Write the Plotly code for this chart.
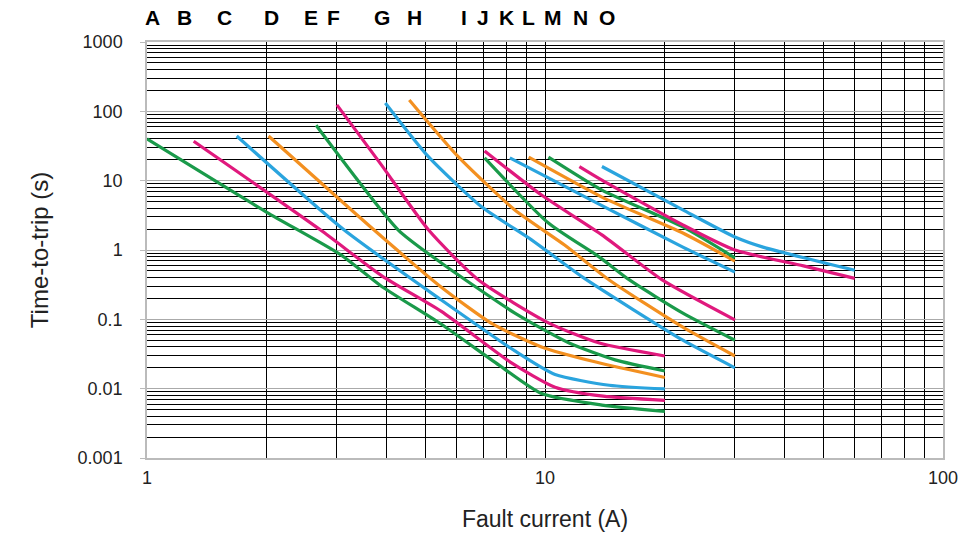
import numpy as np
import plotly.graph_objects as go

# Curve data: fault current (A) vs time-to-trip (s)
curve_names = list("ABCDEFGHIJKLMNO")
curve_colors = ["#1A9A4A", "#E0197D", "#2AA4DE", "#F39020"] * 4

A_x = [1.0, 2.0, 3.07, 3.88, 5.49, 7.65, 9.8, 13.9, 20]
A_y = [40, 3.5, 0.85, 0.30, 0.085, 0.022, 0.0085, 0.0058, 0.0047]
B_x = [1.31, 2.73, 3.9, 5.49, 8.2, 10.6, 14, 20]
B_y = [37, 1.94, 0.42, 0.13, 0.024, 0.0105, 0.0078, 0.0068]
C_x = [1.68, 3.13, 5.49, 8.4, 10.6, 14.5, 20]
C_y = [44, 1.94, 0.19, 0.035, 0.016, 0.0112, 0.0099]
D_x = [2.02, 3.72, 5.49, 7.4, 9.8, 13.5, 20]
D_y = [44, 1.94, 0.29, 0.085, 0.040, 0.024, 0.0145]
E_x = [2.66, 4.28, 5.49, 8.4, 11.5, 15.0, 20]
E_y = [63, 1.94, 0.65, 0.123, 0.0455, 0.026, 0.018]
F_x = [3.0, 3.88, 5.1, 6.81, 10.2, 13.7, 20]
F_y = [124, 16.9, 1.94, 0.37, 0.089, 0.0455, 0.0296]
G_x = [3.97, 5.1, 6.93, 9.27, 12.4, 22.2, 30]
G_y = [132, 22, 4.2, 1.39, 0.41, 0.05, 0.02]
H_x = [4.56, 6.06, 8.4, 11.2, 14.5, 22.2, 30]
H_y = [146, 22, 3.78, 1.18, 0.37, 0.077, 0.0296]
I_x = [7.05, 10.2, 13.7, 16.3, 22.2, 30]
I_y = [21.3, 2.45, 0.79, 0.37, 0.123, 0.05]
J_x = [7.05, 9.8, 13.9, 19.7, 30]
J_y = [26.8, 6.2, 1.65, 0.37, 0.098]
K_x = [8.16, 13.9, 22.2, 30]
K_y = [21.3, 4.37, 1.1, 0.48]
L_x = [9.1, 13.9, 22.2, 30]
L_y = [21.8, 5.8, 1.76, 0.69]
M_x = [10.2, 13.9, 22.2, 30]
M_y = [21.8, 7.3, 2.15, 0.77]
N_x = [12.2, 13.9, 22.2, 30, 44.6, 60]
N_y = [16, 10.2, 2.3, 1.0, 0.59, 0.39]
O_x = [13.9, 22.2, 30, 35.3, 60]
O_y = [16, 3.78, 1.54, 1.1, 0.51]

curves_x = [A_x, B_x, C_x, D_x, E_x, F_x, G_x, H_x, I_x, J_x, K_x, L_x, M_x, N_x, O_x]
curves_y = [A_y, B_y, C_y, D_y, E_y, F_y, G_y, H_y, I_y, J_y, K_y, L_y, M_y, N_y, O_y]

# Letter label positions along the current axis (A)
letter_pos = [1.03, 1.24, 1.57, 2.06, 2.58, 2.95, 3.9, 4.69, 6.27, 6.97, 8.0, 9.1, 10.5, 12.3, 14.3]

x_major = [1, 10, 100]
x_major_text = ["1", "10", "100"]
y_major = [0.001, 0.01, 0.1, 1, 10, 100, 1000]
y_major_text = ["0.001", "0.01", "0.1", "1", "10", "100", "1000"]

x_minor = [m * d for d in (1, 10) for m in range(2, 10)] + [10]
y_minor = [m * d for d in (0.001, 0.01, 0.1, 1, 10, 100) for m in range(2, 10)]

fig = go.Figure()
for name, xs, ys, col in zip(curve_names, curves_x, curves_y, curve_colors):
    fig.add_trace(go.Scatter(x=xs, y=ys, mode="lines", name=name,
                             line=dict(color=col, width=3.2, shape="spline", smoothing=0.6),
                             showlegend=False, hoverinfo="skip"))

for name, xp in zip(curve_names, letter_pos):
    fig.add_annotation(x=np.log10(xp), y=1, xref="x", yref="paper",
                       yshift=25, text="<b>%s</b>" % name, showarrow=False,
                       font=dict(family="Liberation Sans", size=21, color="black"),
                       xanchor="center", yanchor="middle")

fig.update_layout(
    width=965, height=538,
    margin=dict(l=147, r=22, t=42, b=80, autoexpand=False),
    paper_bgcolor="white", plot_bgcolor="white",
    font=dict(family="Liberation Sans", color="#222"),
)
fig.update_xaxes(
    type="log", range=[0, 2], automargin=False,
    tickvals=x_major, ticktext=x_major_text,
    ticks="outside", ticklen=3, tickcolor="rgba(0,0,0,0)",
    tickfont=dict(size=18, color="#222"),
    showgrid=True, gridcolor="black", gridwidth=1.4,
    minor=dict(tickvals=x_minor, showgrid=True, gridcolor="black", gridwidth=1.4, ticks=""),
    showline=True, linecolor="#bbbbbb", linewidth=1.5, mirror=True,
    zeroline=False,
    title=dict(text="Fault current (A)", font=dict(size=23, color="#222"), standoff=24),
)
fig.update_yaxes(
    type="log", range=[-3, 3], automargin=False,
    tickvals=y_major, ticktext=y_major_text,
    ticks="outside", ticklen=5, tickcolor="#bbbbbb",
    ticklabelstandoff=14,
    tickfont=dict(size=18, color="#222"),
    showgrid=True, gridcolor="#aaaaaa", gridwidth=1.4,
    minor=dict(tickvals=y_minor, showgrid=True, gridcolor="black", gridwidth=1.4, ticks=""),
    showline=True, linecolor="#bbbbbb", linewidth=1.5, mirror=True,
    zeroline=False,
    title=dict(text="Time-to-trip (s)", font=dict(size=24, color="#222"), standoff=22),
)

# remove the default page margin so the figure fills the window exactly
fig.write_html("out.html", config={"displayModeBar": False},
               post_script="document.body.style.margin='0';")
